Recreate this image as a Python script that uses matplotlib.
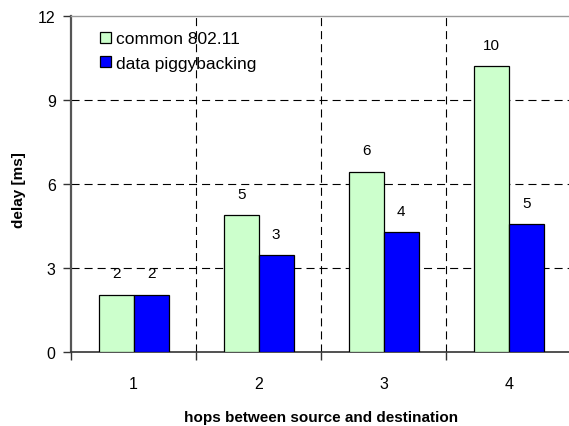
import matplotlib
matplotlib.use("Agg")
import matplotlib.pyplot as plt
import numpy as np

plt.rcParams['font.family'] = ['Liberation Sans', 'DejaVu Sans']
plt.rcParams['lines.scale_dashes'] = False

categories = ["1", "2", "3", "4"]
common = [2.04, 4.89, 6.44, 10.21]
piggy = [2.04, 3.46, 4.28, 4.57]
series_names = ["common 802.11", "data piggybacking"]
yticks = [0, 3, 6, 9, 12]

fig = plt.figure(figsize=(5.69, 4.27), dpi=100)
ax = fig.add_axes([71/569, 1-353/427, 1.0-71/569 + 0.004, (353-17)/427])

x = np.arange(len(categories))
w = 0.28
b1 = ax.bar(x - w/2, common, w, color='#CCFFCC', edgecolor='black', linewidth=0.9,
            label=series_names[0], zorder=3)
b2 = ax.bar(x + w/2, piggy, w, color='#0000FF', edgecolor='black', linewidth=0.9,
            label=series_names[1], zorder=3)

for bars, vals in ((b1, common), (b2, piggy)):
    for r, v in zip(bars, vals):
        ax.annotate(f"{round(v):d}", (r.get_x() + r.get_width()/2, v),
                    xytext=(0, 15.5), textcoords='offset points',
                    ha='center', va='center', fontsize=11, zorder=4)

ax.set_xlim(-0.5, len(categories) - 0.5)
ax.set_ylim(0, 12)
ax.set_yticks(yticks)
ax.set_yticklabels([str(t) for t in yticks], fontsize=11.5)
ax.set_xticks(x)
ax.set_xticklabels(categories, fontsize=11.5)
ax.tick_params(axis='x', which='major', length=0, pad=17)
ax.set_xticks(np.arange(-0.5, len(categories)), minor=True)
ax.tick_params(axis='x', which='minor', length=6, width=1, color='#333333', direction='out')
ax.tick_params(axis='y', which='major', length=6, width=1, color='#333333', pad=5)

for yv in yticks[1:-1]:
    ax.axhline(yv, color='black', linewidth=0.8, dashes=(5.8, 3.6), zorder=1)
for xv in np.arange(0.5, len(categories) - 0.5):
    ax.axvline(xv, color='black', linewidth=0.8, dashes=(5.8, 3.6), zorder=1)

ax.spines['left'].set_color('#555555')
ax.spines['left'].set_linewidth(1.6)
ax.spines['bottom'].set_color('#333333')
ax.spines['bottom'].set_linewidth(1.2)
ax.spines['top'].set_color('#999999')
ax.spines['top'].set_linewidth(1.0)
ax.spines['right'].set_visible(False)

ax.set_ylabel("delay [ms]", fontsize=11, fontweight='bold')
ax.yaxis.set_label_coords(-0.09, 0.485)
ax.set_xlabel("hops between source and destination", fontsize=11, fontweight='bold')
ax.xaxis.set_label_coords(0.5, -0.172)

leg = ax.legend(loc='upper left', bbox_to_anchor=(0.045, 0.975), frameon=False,
                fontsize=12.5, handlelength=0.58, handleheight=0.58,
                handletextpad=0.3, labelspacing=0.55, borderaxespad=0)
leg.set_zorder(5)

fig.savefig("out.png", dpi=100)
